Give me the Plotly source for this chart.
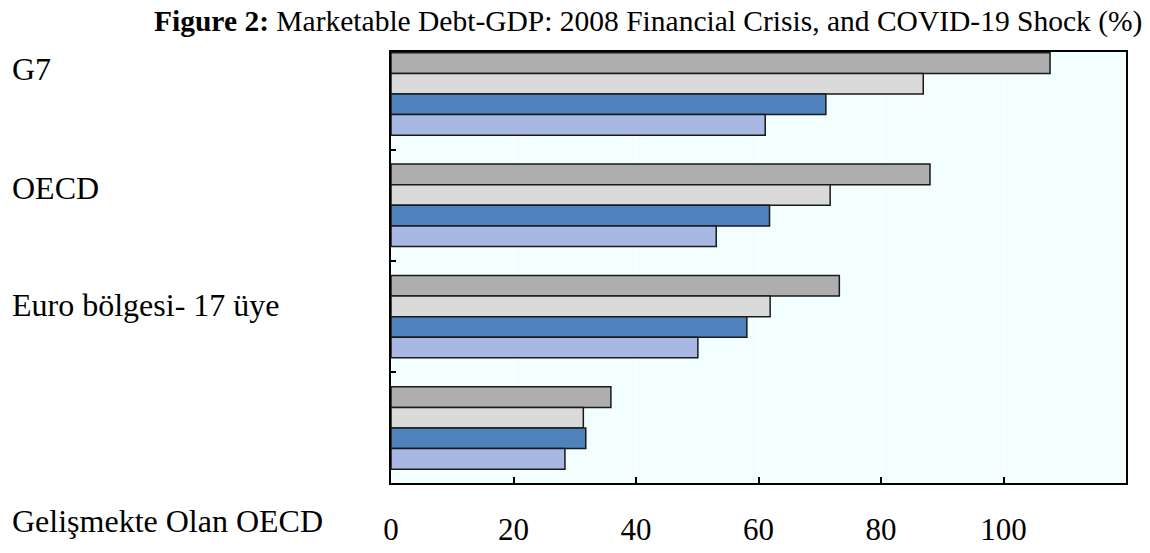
import plotly.graph_objects as go

categories = ["G7", "OECD", "Euro bölgesi- 17 üye", "Gelişmekte Olan OECD"]
positions = [0, 1, 2, 3]
series_a = [107.6, 88.0, 73.2, 35.9]   # dark grey
series_b = [86.9, 71.7, 61.9, 31.4]    # light grey
series_c = [71.0, 61.8, 58.1, 31.8]    # blue
series_d = [61.1, 53.1, 50.1, 28.4]    # light blue
x_ticks = [0, 20, 40, 60, 80, 100]

fills = ["#AEAEAE", "#DADADA", "#4F81BD", "#A7B8E3"]
FONT = "Liberation Serif"

fig = go.Figure()
for vals, col in zip([series_a, series_b, series_c, series_d], fills):
    fig.add_trace(go.Bar(
        x=vals, y=positions, orientation="h",
        marker=dict(color=col, line=dict(color="#1a1a1a", width=1.5)),
        showlegend=False,
    ))

fig.update_layout(
    width=1150, height=553,
    margin=dict(l=391, r=24, t=52, b=70),
    paper_bgcolor="white",
    plot_bgcolor="#F3FFFF",
    barmode="group", bargap=0.26, bargroupgap=0,
    font=dict(family=FONT, color="black", size=30),
)
fig.update_xaxes(
    range=[0, 120], tickvals=x_ticks, ticktext=[str(v) for v in x_ticks],
    showgrid=True, gridcolor="white", gridwidth=1,
    showline=True, linecolor="black", linewidth=2, mirror=True,
    ticks="inside", ticklen=6, tickcolor="black", tickwidth=1.5,
    tickfont=dict(family=FONT, size=31, color="black"),
    ticklabelstandoff=18, zeroline=False, automargin=False,
)
fig.update_yaxes(
    range=[3.494, -0.377], tickvals=[0.5, 1.5, 2.5], showticklabels=False,
    showgrid=False, zeroline=False, automargin=False,
    showline=True, linecolor="black", linewidth=2, mirror=True,
    ticks="inside", ticklen=5, tickcolor="black", tickwidth=1.5,
)

label_y = [0.961, 0.684, 0.413, -0.088]
for name, yy in zip(categories, label_y):
    fig.add_annotation(text=name, xref="paper", yref="paper", x=-0.518, y=yy,
                       xanchor="left", yanchor="middle", showarrow=False,
                       font=dict(family=FONT, size=32, color="black"))

fig.add_annotation(
    text="<b>Figure 2:</b> Marketable Debt-GDP: 2008 Financial Crisis, and COVID-19 Shock (%)",
    xref="paper", yref="paper", x=0.35, y=1.0, yshift=31,
    xanchor="center", yanchor="middle", showarrow=False,
    font=dict(family=FONT, size=29.5, color="black"))

fig.write_html("out.html")
